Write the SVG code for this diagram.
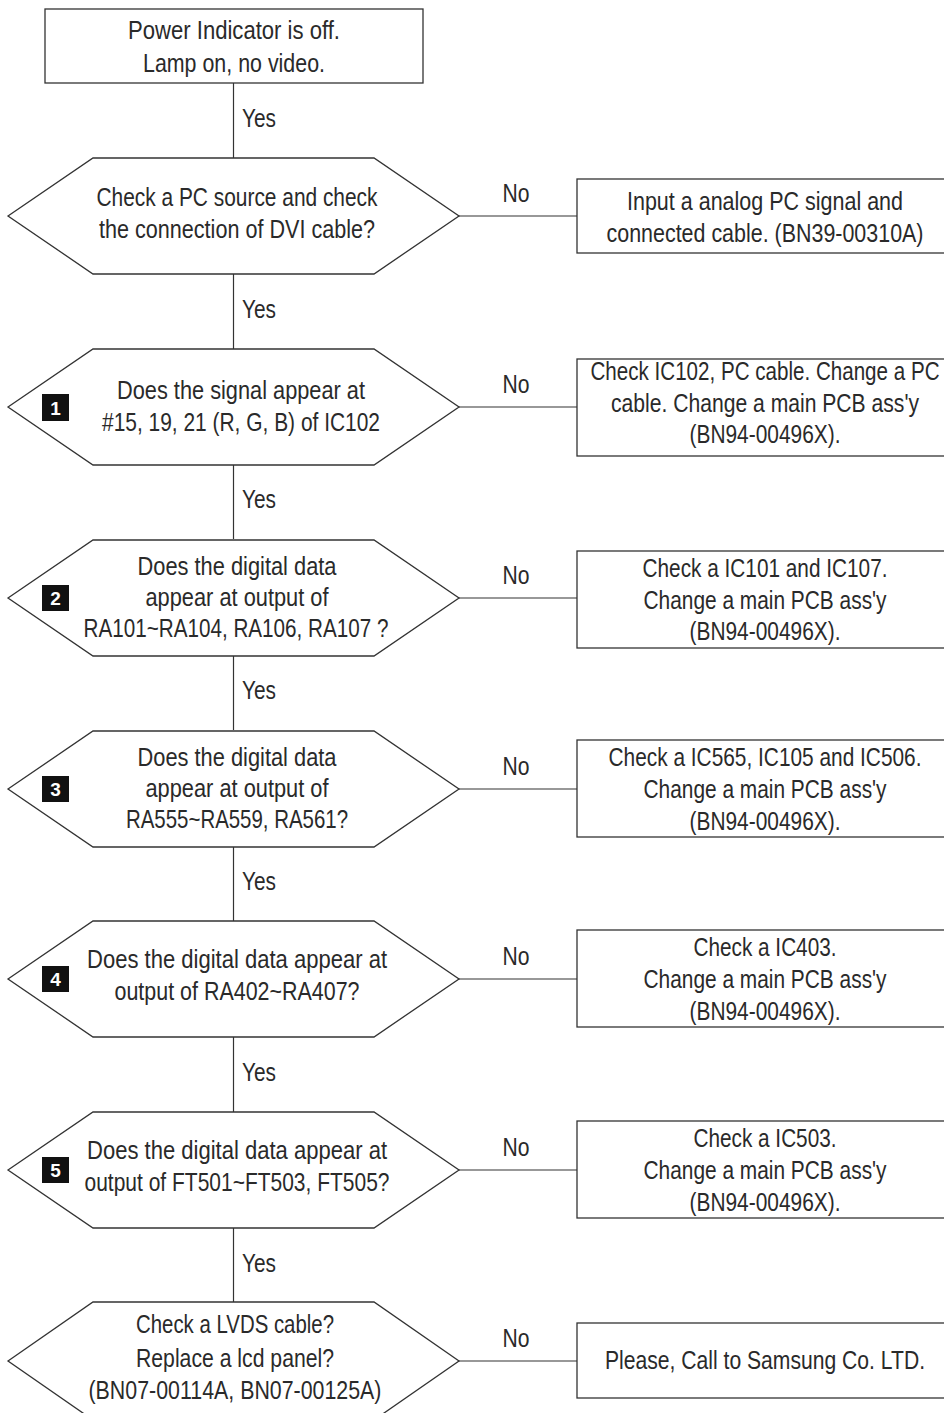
<svg xmlns="http://www.w3.org/2000/svg" width="944" height="1413" viewBox="0 0 944 1413">
<style>
text{font-family:"Liberation Sans",Arial,"DejaVu Sans",sans-serif;font-size:25px;fill:#2a2a2a;text-anchor:middle}
.lbl{text-anchor:start}
.shape{fill:#fff;stroke:#333;stroke-width:1.3}
.conn line{stroke:#333;stroke-width:1.2}
.badge rect{fill:#111}
.badge text{fill:#fff;font-weight:bold;font-size:19px}
</style>
<rect width="944" height="1413" fill="#fff"/>
<g class="conn" id="connectors">
<line x1="233.5" y1="83" x2="233.5" y2="158"/>
<line x1="233.5" y1="274" x2="233.5" y2="349"/>
<line x1="233.5" y1="465" x2="233.5" y2="539"/>
<line x1="233.5" y1="655" x2="233.5" y2="730"/>
<line x1="233.5" y1="846" x2="233.5" y2="921"/>
<line x1="233.5" y1="1037" x2="233.5" y2="1112"/>
<line x1="233.5" y1="1228" x2="233.5" y2="1302"/>
<line x1="459" y1="216" x2="577" y2="216"/>
<line x1="459" y1="407" x2="577" y2="407"/>
<line x1="459" y1="598" x2="577" y2="598"/>
<line x1="459" y1="789" x2="577" y2="789"/>
<line x1="459" y1="979" x2="577" y2="979"/>
<line x1="459" y1="1170" x2="577" y2="1170"/>
<line x1="459" y1="1361" x2="577" y2="1361"/>
<text class="lbl" x="242" y="127" textLength="34" lengthAdjust="spacingAndGlyphs">Yes</text>
<text class="lbl" x="242" y="318" textLength="34" lengthAdjust="spacingAndGlyphs">Yes</text>
<text class="lbl" x="242" y="508" textLength="34" lengthAdjust="spacingAndGlyphs">Yes</text>
<text class="lbl" x="242" y="699" textLength="34" lengthAdjust="spacingAndGlyphs">Yes</text>
<text class="lbl" x="242" y="890" textLength="34" lengthAdjust="spacingAndGlyphs">Yes</text>
<text class="lbl" x="242" y="1081" textLength="34" lengthAdjust="spacingAndGlyphs">Yes</text>
<text class="lbl" x="242" y="1272" textLength="34" lengthAdjust="spacingAndGlyphs">Yes</text>
<text x="516" y="202" textLength="27" lengthAdjust="spacingAndGlyphs">No</text>
<text x="516" y="393" textLength="27" lengthAdjust="spacingAndGlyphs">No</text>
<text x="516" y="584" textLength="27" lengthAdjust="spacingAndGlyphs">No</text>
<text x="516" y="775" textLength="27" lengthAdjust="spacingAndGlyphs">No</text>
<text x="516" y="965" textLength="27" lengthAdjust="spacingAndGlyphs">No</text>
<text x="516" y="1156" textLength="27" lengthAdjust="spacingAndGlyphs">No</text>
<text x="516" y="1347" textLength="27" lengthAdjust="spacingAndGlyphs">No</text>
</g>
<g id="start">
<rect class="shape" x="45" y="9" width="378" height="74"/>
<text x="234" y="39" textLength="212" lengthAdjust="spacingAndGlyphs">Power Indicator is off.</text>
<text x="234" y="72" textLength="182" lengthAdjust="spacingAndGlyphs">Lamp on, no video.</text>
</g>
<g id="d1">
<polygon class="shape" points="8,216 93,158 374,158 459,216 374,274 93,274"/>
<text x="237" y="206" textLength="281" lengthAdjust="spacingAndGlyphs">Check a PC source and check</text>
<text x="237" y="238" textLength="276" lengthAdjust="spacingAndGlyphs">the connection of DVI cable?</text>
</g>
<g id="r1">
<rect class="shape" x="577" y="179" width="380" height="74"/>
<text x="765" y="210" textLength="276" lengthAdjust="spacingAndGlyphs">Input a analog PC signal and</text>
<text x="765" y="242" textLength="317" lengthAdjust="spacingAndGlyphs">connected cable. (BN39-00310A)</text>
</g>
<g id="d2">
<polygon class="shape" points="8,407 93,349 374,349 459,407 374,465 93,465"/>
<g class="badge"><rect x="42" y="394" width="27" height="27"/><text x="55.5" y="414.5">1</text></g>
<text x="241" y="399" textLength="248" lengthAdjust="spacingAndGlyphs">Does the signal appear at</text>
<text x="241" y="431" textLength="278" lengthAdjust="spacingAndGlyphs">#15, 19, 21 (R, G, B) of IC102</text>
</g>
<g id="r2">
<rect class="shape" x="577" y="359" width="380" height="97"/>
<text x="765" y="380" textLength="349" lengthAdjust="spacingAndGlyphs">Check IC102, PC cable. Change a PC</text>
<text x="765" y="412" textLength="308" lengthAdjust="spacingAndGlyphs">cable. Change a main PCB ass'y</text>
<text x="765" y="443" textLength="151" lengthAdjust="spacingAndGlyphs">(BN94-00496X).</text>
</g>
<g id="d3">
<polygon class="shape" points="8,598 93,540 374,540 459,598 374,656 93,656"/>
<g class="badge"><rect x="42" y="585" width="27" height="26"/><text x="55.5" y="605">2</text></g>
<text x="237" y="575" textLength="199" lengthAdjust="spacingAndGlyphs">Does the digital data</text>
<text x="237" y="606" textLength="183" lengthAdjust="spacingAndGlyphs">appear at output of</text>
<text x="236" y="637" textLength="305" lengthAdjust="spacingAndGlyphs">RA101~RA104, RA106, RA107 ?</text>
</g>
<g id="r3">
<rect class="shape" x="577" y="551" width="380" height="97"/>
<text x="765" y="577" textLength="245" lengthAdjust="spacingAndGlyphs">Check a IC101 and IC107.</text>
<text x="765" y="609" textLength="243" lengthAdjust="spacingAndGlyphs">Change a main PCB ass'y</text>
<text x="765" y="640" textLength="151" lengthAdjust="spacingAndGlyphs">(BN94-00496X).</text>
</g>
<g id="d4">
<polygon class="shape" points="8,789 93,731 374,731 459,789 374,847 93,847"/>
<g class="badge"><rect x="42" y="776" width="27" height="26"/><text x="55.5" y="796">3</text></g>
<text x="237" y="766" textLength="199" lengthAdjust="spacingAndGlyphs">Does the digital data</text>
<text x="237" y="797" textLength="183" lengthAdjust="spacingAndGlyphs">appear at output of</text>
<text x="237" y="828" textLength="222" lengthAdjust="spacingAndGlyphs">RA555~RA559, RA561?</text>
</g>
<g id="r4">
<rect class="shape" x="577" y="740" width="380" height="97"/>
<text x="765" y="766" textLength="313" lengthAdjust="spacingAndGlyphs">Check a IC565, IC105 and IC506.</text>
<text x="765" y="798" textLength="243" lengthAdjust="spacingAndGlyphs">Change a main PCB ass'y</text>
<text x="765" y="830" textLength="151" lengthAdjust="spacingAndGlyphs">(BN94-00496X).</text>
</g>
<g id="d5">
<polygon class="shape" points="8,979 93,921 374,921 459,979 374,1037 93,1037"/>
<g class="badge"><rect x="42" y="966" width="27" height="26"/><text x="55.5" y="986">4</text></g>
<text x="237" y="968" textLength="300" lengthAdjust="spacingAndGlyphs">Does the digital data appear at</text>
<text x="237" y="1000" textLength="245" lengthAdjust="spacingAndGlyphs">output of RA402~RA407?</text>
</g>
<g id="r5">
<rect class="shape" x="577" y="930" width="380" height="97"/>
<text x="765" y="956" textLength="143" lengthAdjust="spacingAndGlyphs">Check a IC403.</text>
<text x="765" y="988" textLength="243" lengthAdjust="spacingAndGlyphs">Change a main PCB ass'y</text>
<text x="765" y="1020" textLength="151" lengthAdjust="spacingAndGlyphs">(BN94-00496X).</text>
</g>
<g id="d6">
<polygon class="shape" points="8,1170 93,1112 374,1112 459,1170 374,1228 93,1228"/>
<g class="badge"><rect x="42" y="1157" width="27" height="26"/><text x="55.5" y="1177">5</text></g>
<text x="237" y="1159" textLength="300" lengthAdjust="spacingAndGlyphs">Does the digital data appear at</text>
<text x="237" y="1191" textLength="305" lengthAdjust="spacingAndGlyphs">output of FT501~FT503, FT505?</text>
</g>
<g id="r6">
<rect class="shape" x="577" y="1121" width="380" height="97"/>
<text x="765" y="1147" textLength="143" lengthAdjust="spacingAndGlyphs">Check a IC503.</text>
<text x="765" y="1179" textLength="243" lengthAdjust="spacingAndGlyphs">Change a main PCB ass'y</text>
<text x="765" y="1211" textLength="151" lengthAdjust="spacingAndGlyphs">(BN94-00496X).</text>
</g>
<g id="d7">
<polygon class="shape" points="8,1361 93,1302 374,1302 459,1361 374,1420 93,1420"/>
<text x="235" y="1333" textLength="198" lengthAdjust="spacingAndGlyphs">Check a LVDS cable?</text>
<text x="235" y="1367" textLength="198" lengthAdjust="spacingAndGlyphs">Replace a lcd panel?</text>
<text x="235" y="1399" textLength="293" lengthAdjust="spacingAndGlyphs">(BN07-00114A, BN07-00125A)</text>
</g>
<g id="r7">
<rect class="shape" x="577" y="1323" width="380" height="75"/>
<text x="765" y="1369" textLength="320" lengthAdjust="spacingAndGlyphs">Please, Call to Samsung Co. LTD.</text>
</g>
</svg>
